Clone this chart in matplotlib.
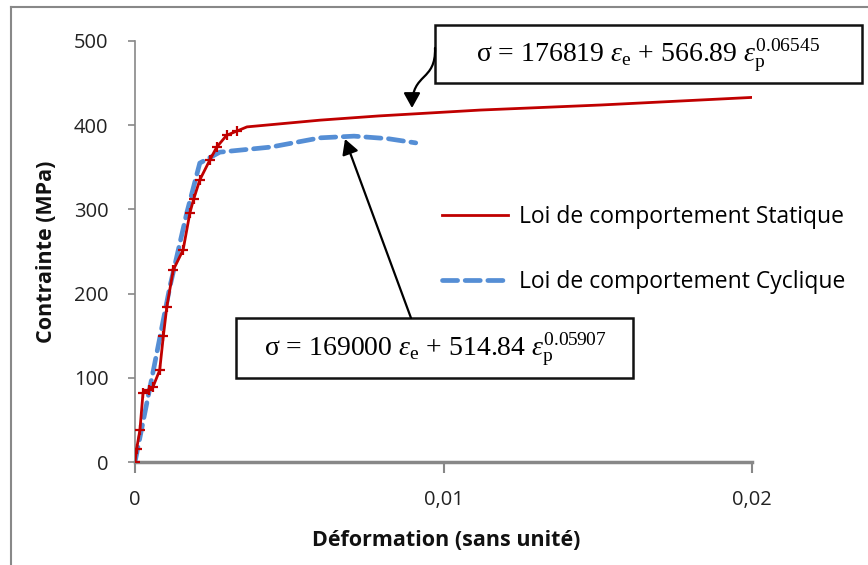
import matplotlib
matplotlib.use("Agg")
import matplotlib.pyplot as plt
from matplotlib.lines import Line2D
from matplotlib.patches import Rectangle, FancyArrowPatch
from matplotlib.path import Path

# ---------------- data ----------------
static_x = [0, 0.00005, 0.00016, 0.00026, 0.00045, 0.00058, 0.0008, 0.00092, 0.00103,
            0.00124, 0.00156, 0.00178, 0.0019, 0.0021, 0.00243, 0.00265, 0.00297,
            0.0033, 0.00363, 0.006, 0.0079, 0.0112, 0.0151, 0.02]
static_y = [0, 15, 38, 82, 86, 89, 109, 150, 184, 228, 252, 296, 312, 335, 359, 374,
            388, 393, 398, 406, 411, 418, 424, 433]

cyclic_x = [0, 0.00058, 0.00113, 0.00168, 0.0021, 0.00275, 0.0044, 0.006, 0.0071,
            0.0082, 0.0091]
cyclic_y = [0, 106, 208, 296, 355, 368, 374, 385, 387, 384, 379]

labels = ["Loi de comportement Statique", "Loi de comportement Cyclique"]
x_ticks = [0, 0.01, 0.02]
x_tick_labels = ["0", "0,01", "0,02"]
y_ticks = [0, 100, 200, 300, 400, 500]
x_label = "Déformation (sans unité)"
y_label = "Contrainte (MPa)"
eq_static = r"σ = 176819 $ε_{\mathrm{e}}$ + 566.89 $ε_{\mathrm{p}}^{0.06545}$"
eq_cyclic = r"σ = 169000 $ε_{\mathrm{e}}$ + 514.84 $ε_{\mathrm{p}}^{0.05907}$"

# ---------------- style ----------------
plt.rcParams['font.family'] = ['Open Sans', 'DejaVu Sans']
plt.rcParams['mathtext.fontset'] = 'custom'
plt.rcParams['mathtext.rm'] = 'Liberation Serif'
plt.rcParams['mathtext.it'] = 'Liberation Serif:italic'

W, H = 868, 565
fig = plt.figure(figsize=(W / 100, H / 100), dpi=100)
fig.patch.set_facecolor("white")

def fx(px):
    return px / W

def fy(py):
    return 1 - py / H

ax = fig.add_axes([fx(135), fy(462), (752 - 135) / W, (462 - 41) / H])
ax.set_xlim(0, 0.02)
ax.set_ylim(0, 500)

red = "#C00000"
blue = "#558ED5"

ax.plot(static_x, static_y, color=red, lw=2.0, label=labels[0], zorder=3)
ax.plot(static_x[:18], static_y[:18], ls='none', marker='+', ms=7, mew=1.6,
        color=red, zorder=3)
ax.plot(cyclic_x, cyclic_y, color=blue, lw=3.4, ls=(0, (3.2, 1.6)),
        dash_capstyle='round', label=labels[1], zorder=2)

for s in ["top", "right"]:
    ax.spines[s].set_visible(False)
ax.spines["left"].set_color("#888888")
ax.spines["left"].set_linewidth(1.2)
ax.spines["bottom"].set_color("#888888")
ax.spines["bottom"].set_linewidth(2.5)

ax.set_xticks(x_ticks)
ax.set_xticklabels(x_tick_labels)
ax.set_yticks(y_ticks)
ax.tick_params(axis='x', direction='out', length=8, width=1.5, color="#888888",
               labelsize=14.5, pad=12, labelcolor="#222222")
ax.tick_params(axis='y', direction='out', length=5, width=1.2, color="#888888",
               labelsize=14.5, pad=14, labelcolor="#222222")

fig.text(fx(446), fy(540), x_label, ha='center', va='center',
         fontsize=15.5, fontweight='bold', color="#111111")
fig.text(fx(47), fy(252), y_label, ha='center', va='center',
         rotation=90, fontsize=15.5, fontweight='bold', color="#111111")

handles = [Line2D([], [], color=red, lw=2.0),
           Line2D([], [], color=blue, lw=3.4, ls=(0, (3.2, 1.6)), dash_capstyle='round')]
leg = ax.legend(handles, labels, loc='upper left', bbox_to_anchor=(fx(442), fy(205)),
                bbox_transform=fig.transFigure, frameon=False, fontsize=16.5,
                handlelength=2.9, handletextpad=0.45, labelspacing=1.8,
                borderpad=0, borderaxespad=0)

# equation boxes
fig.add_artist(Rectangle((fx(435), fy(83)), (862 - 435) / W, (83 - 25) / H,
                         transform=fig.transFigure, fc="white", ec="#111111", lw=1.8, zorder=5))
fig.add_artist(Rectangle((fx(236), fy(378)), (633 - 236) / W, (378 - 318) / H,
                         transform=fig.transFigure, fc="white", ec="#111111", lw=1.8, zorder=5))
fig.text(fx(648), fy(56), eq_static, ha='center', va='center', fontsize=20,
         family='Liberation Serif', zorder=6)
fig.text(fx(435), fy(350), eq_cyclic, ha='center', va='center', fontsize=20,
         family='Liberation Serif', zorder=6)

# arrows
s_path = Path([(fx(435), fy(48)), (fx(436), fy(82)), (fx(412), fy(72)), (fx(412), fy(108))],
              [Path.MOVETO, Path.CURVE4, Path.CURVE4, Path.CURVE4])
fig.add_artist(FancyArrowPatch(path=s_path, transform=fig.transFigure,
                               arrowstyle="-|>,head_length=9,head_width=5",
                               color="black", lw=1.6, zorder=7))
fig.add_artist(FancyArrowPatch(posA=(fx(411), fy(318)), posB=(fx(345), fy(139)),
                               transform=fig.transFigure,
                               arrowstyle="-|>,head_length=9,head_width=5",
                               color="black", lw=1.6, shrinkA=0, shrinkB=0, zorder=7))

# outer frame lines (top & left)
fig.add_artist(Line2D([fx(11), fx(11)], [0, fy(7)], transform=fig.transFigure,
                      color="#888888", lw=1.5))
fig.add_artist(Line2D([fx(11), 1], [fy(7), fy(7)], transform=fig.transFigure,
                      color="#888888", lw=1.5))

fig.savefig("out.png", dpi=100)
